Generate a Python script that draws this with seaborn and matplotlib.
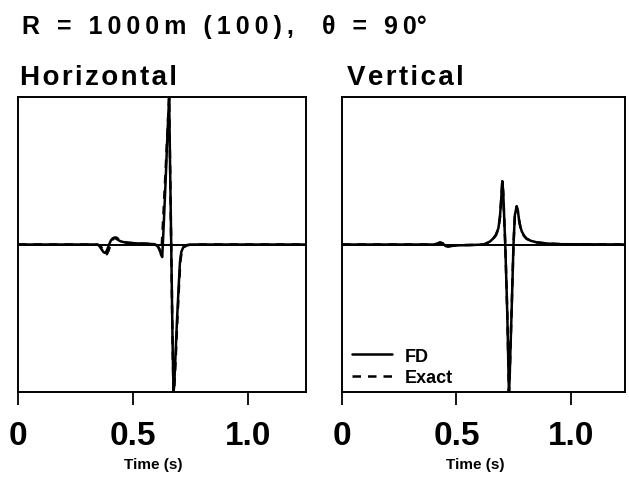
import matplotlib
matplotlib.use("Agg")
import matplotlib.pyplot as plt
import seaborn as sns

# ---- Seismogram samples (normalised amplitude) ----
# Horizontal component
hz_t_fd = [0.000, 0.340, 0.352, 0.362, 0.372, 0.380, 0.388, 0.396, 0.404, 0.412,
           0.420, 0.430, 0.445, 0.470, 0.510, 0.560, 0.595, 0.608, 0.616, 0.622,
           0.627, 0.634, 0.642, 0.650, 0.657, 0.662, 0.667, 0.672, 0.676, 0.679,
           0.684, 0.691, 0.698, 0.704, 0.710, 0.718, 0.734, 0.760, 1.250]
hz_fd = [0.000, 0.000, -0.006, -0.030, -0.052, -0.058, -0.035, 0.000, 0.028, 0.042,
         0.045, 0.036, 0.022, 0.012, 0.008, 0.005, 0.002, -0.012, -0.035, -0.070,
         -0.085, 0.150, 0.440, 0.760, 1.000, 0.440, -0.110, -0.670, -1.000, -0.960,
         -0.780, -0.520, -0.300, -0.120, -0.050, -0.020, -0.004, 0.000, 0.000]

hz_t_ex = [0.000, 0.345, 0.358, 0.368, 0.378, 0.386, 0.394, 0.402, 0.410, 0.418,
           0.426, 0.436, 0.450, 0.475, 0.510, 0.560, 0.595, 0.606, 0.613, 0.619,
           0.624, 0.632, 0.641, 0.650, 0.657, 0.662, 0.667, 0.672, 0.676, 0.680,
           0.686, 0.693, 0.700, 0.706, 0.712, 0.720, 0.736, 0.760, 1.250]
hz_ex = [0.000, 0.000, -0.008, -0.035, -0.060, -0.066, -0.040, -0.005, 0.030, 0.046,
         0.048, 0.038, 0.024, 0.013, 0.008, 0.005, 0.002, -0.010, -0.028, -0.050,
         -0.040, 0.200, 0.480, 0.770, 1.000, 0.440, -0.110, -0.670, -1.000, -0.950,
         -0.760, -0.500, -0.280, -0.110, -0.045, -0.018, -0.004, 0.000, 0.000]

# Vertical component
vt_t = [0.000, 0.400, 0.415, 0.428, 0.440, 0.452, 0.463, 0.478, 0.500, 0.560,
        0.620, 0.646, 0.660, 0.672, 0.683, 0.690, 0.695, 0.700, 0.704, 0.708,
        0.713, 0.718, 0.722, 0.726, 0.729, 0.732, 0.736, 0.741, 0.745, 0.749,
        0.755, 0.763, 0.768, 0.773, 0.779, 0.785, 0.795, 0.806, 0.825, 0.850,
        0.900, 0.960, 1.250]
vt_fd = [0.000, 0.000, 0.005, 0.015, 0.008, -0.010, -0.015, -0.010, -0.006, -0.004,
         0.000, 0.020, 0.040, 0.065, 0.110, 0.190, 0.300, 0.430, 0.360, 0.200,
         0.000, -0.260, -0.480, -0.780, -1.000, -0.920, -0.700, -0.440, -0.220, 0.000,
         0.200, 0.260, 0.230, 0.170, 0.120, 0.090, 0.060, 0.040, 0.025, 0.015,
         0.006, 0.002, 0.000]
vt_ex = [0.000, 0.000, 0.004, 0.012, 0.006, -0.008, -0.013, -0.009, -0.005, -0.003,
         0.000, 0.018, 0.038, 0.062, 0.105, 0.185, 0.295, 0.420, 0.350, 0.195,
         0.000, -0.255, -0.475, -0.770, -1.000, -0.910, -0.690, -0.435, -0.215, 0.000,
         0.195, 0.255, 0.225, 0.168, 0.118, 0.088, 0.058, 0.039, 0.024, 0.014,
         0.006, 0.002, 0.000]

tick_pos = [0.0, 0.5, 1.0]
tick_labels = ["0", "0.5", "1.0"]
series_names = ["FD", "Exact"]
panel_titles = ["Horizontal", "Vertical"]

sns.set_style("white")
plt.rcParams["font.family"] = ["Liberation Sans", "DejaVu Sans"]
plt.rcParams["font.weight"] = "bold"
plt.rcParams["text.color"] = "black"
plt.rcParams["axes.labelcolor"] = "black"
plt.rcParams["xtick.color"] = "black"

W, H = 629, 485
fig = plt.figure(figsize=(W / 100, H / 100), dpi=100)


def px_box(x0, y0, x1, y1):
    return [x0 / W, 1 - y1 / H, (x1 - x0) / W, (y1 - y0) / H]


def tracked(s, gap="\u2009"):
    """Widen letter spacing by putting a narrow space between glyphs."""
    return gap.join(s)


axL = fig.add_axes(px_box(18, 98, 306, 393))
axR = fig.add_axes(px_box(342, 98, 625, 393))

dash = (0, (3.4, 2.8))
lw = 1.8

for ax, xmax, (t1, y1, t2, y2) in [
    (axL, 1.252, (hz_t_fd, hz_fd, hz_t_ex, hz_ex)),
    (axR, 1.236, (vt_t, vt_fd, vt_t, vt_ex)),
]:
    ax.axhline(0, color="black", lw=1.4, zorder=1)
    sns.lineplot(x=t2, y=y2, ax=ax, color="black", lw=lw, linestyle=dash,
                 estimator=None, sort=False, label=series_names[1], zorder=3)
    sns.lineplot(x=t1, y=y1, ax=ax, color="black", lw=lw,
                 estimator=None, sort=False, label=series_names[0], zorder=4)
    ax.set_xlim(0, xmax)
    ax.set_ylim(-1.0, 1.0)
    ax.set_yticks([])
    ax.set_ylabel("")
    ax.set_xticks(tick_pos)
    ax.set_xticklabels(tick_labels, fontsize=24, fontweight="bold")
    ax.tick_params(axis="x", bottom=True, direction="out", length=9, width=1.3,
                   pad=11, colors="black")
    for sp in ax.spines.values():
        sp.set_visible(True)
        sp.set_color("black")
        sp.set_linewidth(1.4)
    ax.set_xlabel("Time (s)", fontsize=11, fontweight="bold")
    ax.xaxis.set_label_coords(0.47, -0.22)
    ax.get_legend().remove()

# legend in the vertical panel
handles, labels = axR.get_legend_handles_labels()
order = [labels.index("FD"), labels.index("Exact")]
axR.legend([handles[i] for i in order], [labels[i] for i in order],
           loc="lower left", bbox_to_anchor=(0.035, 0.02), frameon=False,
           handlelength=2.2, handletextpad=0.75, labelspacing=0.25,
           borderpad=0, borderaxespad=0,
           prop={"weight": "bold", "size": 13})

fig.text(22 / W, 1 - 34 / H, tracked("R = 1000m (100),"), fontsize=18,
         fontweight="bold", va="baseline", ha="left")
fig.text(322 / W, 1 - 34 / H, tracked("θ = 90") + "°", fontsize=18,
         fontweight="bold", va="baseline", ha="left")
fig.text(20 / W, 1 - 85 / H, tracked(panel_titles[0], "\u200a"), fontsize=20,
         fontweight="bold", va="baseline", ha="left")
fig.text(347 / W, 1 - 85 / H, tracked(panel_titles[1], "\u200a"), fontsize=20,
         fontweight="bold", va="baseline", ha="left")

fig.savefig("out.png", dpi=100, facecolor="white")
